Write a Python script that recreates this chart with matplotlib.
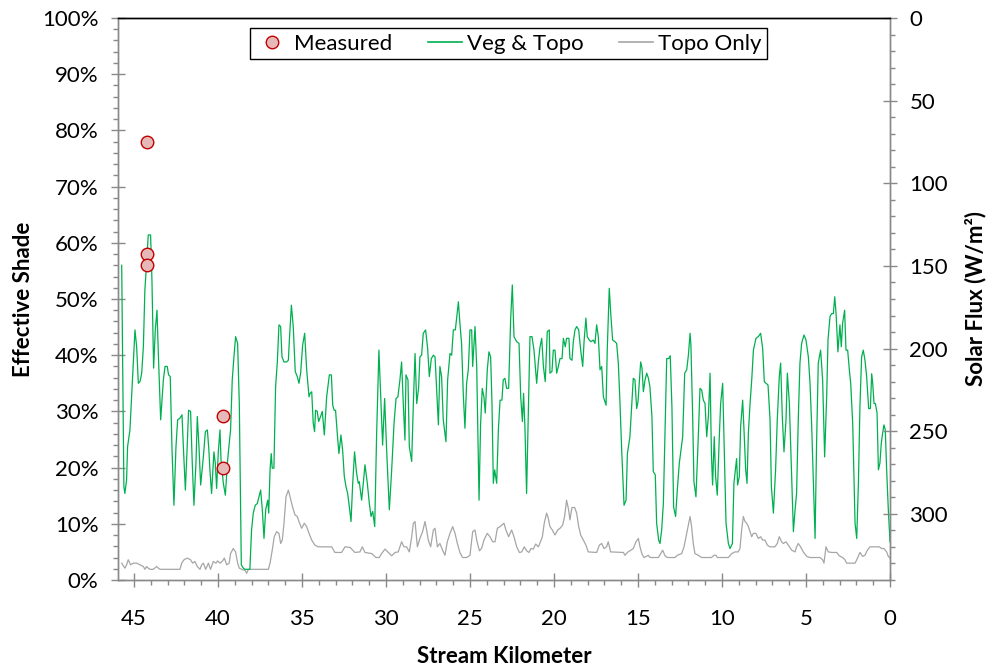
import matplotlib
matplotlib.use('Agg')
import matplotlib.pyplot as plt
from matplotlib.ticker import MultipleLocator, PercentFormatter
from matplotlib.lines import Line2D

plt.rcParams['font.family'] = ['Lato', 'DejaVu Sans']

# effective shade, vegetation + topography (km, %)
veg_km = [
    45.73, 45.60, 45.54, 45.44, 45.38, 45.24, 45.04, 44.94, 44.84, 44.74, 44.64, 44.54, 44.44, 44.35,
    44.25, 44.15, 44.01, 43.93, 43.83, 43.73, 43.63, 43.53, 43.41, 43.25, 43.15, 43.02, 42.94, 42.84,
    42.74, 42.62, 42.50, 42.40, 42.26, 42.14, 42.06, 41.94, 41.84, 41.75, 41.63, 41.53, 41.43, 41.31,
    41.23, 41.13, 41.03, 40.87, 40.75, 40.63, 40.54, 40.48, 40.38, 40.24, 40.16, 40.08, 39.98, 39.88,
    39.82, 39.68, 39.56, 39.44, 39.35, 39.25, 39.15, 39.05, 38.95, 38.83, 38.73, 38.61, 38.49, 38.39,
    38.10, 38.00, 37.90, 37.78, 37.66, 37.56, 37.46, 37.36, 37.26, 37.16, 37.04, 36.98, 36.90, 36.83,
    36.77, 36.67, 36.57, 36.47, 36.37, 36.27, 36.19, 36.07, 35.91, 35.81, 35.75, 35.63, 35.52, 35.40,
    35.28, 35.18, 35.08, 34.96, 34.84, 34.72, 34.58,
    34.52, 34.42, 34.33, 34.25, 34.19, 34.09, 34.01, 33.89, 33.79, 33.67, 33.53, 33.37, 33.25, 33.17,
    33.08, 33.00, 32.90, 32.80, 32.68, 32.58, 32.48, 32.38, 32.28, 32.18, 32.08, 31.98, 31.87, 31.75,
    31.65, 31.59, 31.45, 31.35, 31.25, 31.11, 30.99, 30.89, 30.79, 30.67, 30.56, 30.42, 30.30, 30.20,
    30.08, 29.96, 29.80, 29.66, 29.52, 29.40, 29.29, 29.17, 29.07, 28.97, 28.87, 28.81, 28.69, 28.61,
    28.47, 28.37, 28.27, 28.17, 28.06, 27.98, 27.88, 27.78, 27.64, 27.52, 27.42, 27.30, 27.18, 27.08,
    26.98, 26.88, 26.79, 26.69, 26.59, 26.43, 26.33, 26.19, 26.09, 25.99, 25.87, 25.69, 25.60, 25.50,
    25.40, 25.30, 25.20, 25.10, 25.00, 24.90, 24.84, 24.70, 24.60, 24.46, 24.37, 24.27, 24.17, 24.09,
    23.97, 23.87, 23.77, 23.69, 23.61, 23.53, 23.41, 23.31, 23.21,
    23.10, 23.02, 22.92, 22.82, 22.70, 22.58, 22.48, 22.38, 22.22, 22.08, 21.98, 21.88, 21.81, 21.73,
    21.63, 21.53, 21.43, 21.31, 21.19, 21.03, 20.93, 20.83, 20.73, 20.63, 20.52, 20.40, 20.28, 20.24,
    20.12, 20.04, 19.94, 19.84, 19.74, 19.64, 19.52, 19.44, 19.33, 19.25, 19.11, 19.05, 18.93, 18.85,
    18.75, 18.65, 18.53, 18.41, 18.29, 18.21, 18.10, 18.02, 17.90, 17.80, 17.66, 17.56, 17.46, 17.36,
    17.26, 17.16, 17.06, 16.90, 16.83, 16.71, 16.61, 16.51, 16.37, 16.27, 16.17, 16.07, 15.97, 15.83,
    15.71, 15.63, 15.48, 15.38, 15.28, 15.18, 15.08, 15.00, 14.84, 14.76, 14.68, 14.58, 14.48, 14.38,
    14.29, 14.17, 14.09, 13.97, 13.89, 13.77, 13.69, 13.59, 13.49, 13.39, 13.29, 13.17, 13.08, 12.98,
    12.88, 12.76, 12.66, 12.54, 12.42, 12.34, 12.22, 12.10, 12.00, 11.90,
    11.85, 11.75, 11.67, 11.55, 11.41, 11.31, 11.21, 11.11, 11.01, 10.91, 10.81, 10.71, 10.63, 10.56,
    10.46, 10.38, 10.28, 10.16, 10.08, 9.96, 9.86, 9.76, 9.62, 9.52, 9.38, 9.29, 9.13, 9.07,
    8.97, 8.89, 8.77, 8.69, 8.59, 8.51, 8.43, 8.33, 8.23, 8.13, 7.98, 7.84, 7.70, 7.58,
    7.48, 7.38, 7.26, 7.14, 7.06, 6.94, 6.81, 6.71, 6.59, 6.51, 6.41, 6.31, 6.19, 6.11,
    5.99, 5.89, 5.75, 5.65, 5.56, 5.46, 5.36, 5.26, 5.12, 5.00, 4.86, 4.76, 4.66, 4.56,
    4.46, 4.37, 4.27, 4.13, 4.01, 3.89, 3.77, 3.69, 3.57, 3.47, 3.37, 3.29, 3.21, 3.10,
    2.98, 2.90, 2.82, 2.70, 2.62, 2.52, 2.42, 2.34, 2.22, 2.08, 1.98, 1.88, 1.79, 1.69,
    1.59, 1.49, 1.39, 1.27, 1.17, 1.09, 1.03, 0.95, 0.87, 0.77, 0.69, 0.60, 0.52, 0.44,
    0.36, 0.28, 0.20, 0.10, 0.00,
]
veg_shade = [
    56.0, 16.6, 15.4, 17.8, 23.7, 26.7, 38.6, 44.5, 41.5, 35.0, 35.3, 36.8, 41.5, 51.6,
    56.3, 61.4, 61.4, 53.4, 37.7, 44.5, 48.0, 38.6, 28.5, 35.6, 38.0, 38.0, 36.5, 36.2,
    23.7, 13.3, 23.7, 28.5, 28.8, 29.4, 23.7, 16.0, 23.1, 30.2, 30.0, 20.8, 13.3, 20.8,
    29.1, 23.7, 16.9, 21.9, 26.4, 26.7, 23.1, 19.6, 15.4, 22.8, 20.8, 16.3, 22.8, 26.7,
    21.4, 17.2, 15.1, 20.8, 23.7, 26.7, 35.6, 39.7, 43.3, 42.1, 31.4, 2.7, 2.1, 1.9,
    1.9, 8.9, 11.9, 13.3, 13.6, 14.8, 16.0, 12.5, 7.4, 12.5, 14.2, 11.9, 19.6, 22.5,
    19.9, 19.9, 34.4, 38.6, 45.4, 45.1, 39.7, 38.8, 38.8, 39.1, 42.7, 48.9, 45.1, 37.1,
    36.2, 35.0, 36.8, 41.8, 43.9, 37.4, 32.6,
    33.2, 33.5, 27.9, 26.4, 30.2, 30.0, 28.2, 29.1, 30.0, 25.8, 32.6, 36.5, 36.5, 31.1,
    30.2, 30.2, 26.1, 22.5, 25.8, 23.1, 18.4, 16.6, 15.4, 13.0, 10.4, 17.2, 22.8, 19.0,
    17.2, 17.5, 14.2, 17.2, 20.5, 17.2, 13.6, 11.3, 12.2, 9.5, 25.5, 40.9, 31.4, 24.0,
    32.3, 23.1, 12.5, 19.6, 27.9, 32.3, 32.6, 35.6, 38.8, 31.4, 24.9, 36.5, 35.6, 23.7,
    21.1, 31.4, 40.3, 31.4, 34.1, 39.7, 40.0, 43.9, 44.5, 41.2, 36.2, 39.4, 40.0, 39.7,
    33.8, 27.6, 38.0, 36.2, 28.5, 24.6, 35.6, 40.3, 40.0, 44.5, 44.5, 49.5, 45.7, 42.1,
    33.2, 27.0, 35.0, 37.4, 44.5, 44.5, 38.0, 45.1, 38.0, 14.2, 27.6, 34.1, 32.6, 29.7,
    37.4, 40.6, 39.7, 31.4, 17.2, 19.6, 17.2, 26.7, 32.0,
    32.0, 35.6, 35.9, 34.1, 34.1, 46.3, 52.5, 43.3, 42.4, 42.1, 32.6, 28.2, 33.2, 27.3,
    15.4, 29.7, 43.3, 43.3, 40.9, 35.0, 38.8, 41.5, 43.0, 38.0, 35.3, 44.2, 44.5, 36.8,
    37.1, 40.9, 40.9, 36.8, 38.0, 39.4, 39.4, 43.0, 41.5, 43.0, 43.0, 39.4, 39.1, 42.4,
    44.5, 45.1, 44.5, 40.9, 38.0, 42.4, 46.6, 43.3, 42.7, 42.4, 42.7, 42.1, 45.4, 43.3,
    37.4, 38.0, 32.6, 31.1, 40.9, 51.9, 46.9, 42.7, 42.4, 42.1, 38.6, 31.4, 23.1, 13.3,
    14.2, 22.5, 25.5, 30.8, 35.9, 35.6, 30.5, 31.7, 38.8, 37.7, 33.5, 35.6, 36.8, 35.9,
    34.4, 29.1, 19.3, 18.7, 10.1, 7.1, 6.5, 8.9, 13.6, 26.7, 39.4, 39.4, 39.9, 30.8,
    13.0, 11.3, 16.0, 20.8, 23.7, 25.5, 36.8, 37.4, 40.0, 43.9,
    41.8, 29.7, 17.5, 14.8, 25.5, 34.1, 33.8, 32.0, 31.4, 25.5, 29.1, 36.8, 22.5, 16.9,
    25.5, 18.4, 15.1, 25.5, 31.4, 35.0, 22.5, 10.1, 6.5, 5.6, 6.5, 17.2, 21.6, 16.9,
    18.4, 27.3, 32.0, 26.7, 19.6, 17.2, 26.1, 31.4, 35.6, 40.9, 43.0, 43.3, 43.9, 41.2,
    35.3, 35.0, 34.7, 28.5, 16.6, 11.9, 19.6, 28.5, 36.2, 38.6, 29.1, 22.8, 28.5, 36.8,
    31.4, 21.9, 8.6, 12.5, 15.4, 28.5, 38.6, 42.1, 43.6, 42.7, 39.7, 35.0, 27.3, 17.2,
    7.4, 24.3, 38.6, 40.9, 35.6, 21.9, 32.6, 42.7, 46.9, 47.4, 47.4, 50.4, 47.4, 40.6,
    45.4, 41.5, 45.7, 48.0, 40.9, 40.9, 37.4, 35.0, 27.9, 10.1, 7.4, 17.2, 30.8, 39.7,
    40.9, 39.1, 36.2, 30.5, 30.5, 36.7, 35.0, 31.4, 31.4, 29.7, 19.6, 20.8, 24.3, 26.1,
    27.6, 26.7, 19.6, 12.5, 6.8,
]

# effective shade, topography only (km, %)
topo_km = [
    45.73, 45.54, 45.44, 45.34, 45.20, 45.04, 44.84, 44.64, 44.44, 44.35, 44.25, 44.15, 44.05, 43.85,
    43.65, 43.55, 43.45, 42.26, 42.16, 42.02, 41.83, 41.63, 41.51, 41.37, 41.23, 41.07, 40.97, 40.87,
    40.73, 40.57, 40.44, 40.28, 40.12, 40.02, 39.88, 39.72, 39.62, 39.48, 39.33, 39.25, 39.09, 38.95,
    38.83, 38.73, 38.59, 38.39, 38.29, 38.19, 37.00, 36.90, 36.77, 36.65, 36.51, 36.37, 36.27, 36.17,
    36.07, 35.95, 35.81, 35.71, 35.56, 35.42, 35.28, 35.18, 35.02, 34.86, 34.72, 34.58,
    34.42, 34.23, 34.03, 33.23, 33.04, 32.64, 32.44, 32.14, 31.85, 31.55, 31.41, 31.25, 30.85, 30.60,
    30.40, 30.26, 30.06, 29.86, 29.66, 29.46, 29.27, 29.07, 28.93, 28.77, 28.61, 28.47, 28.37, 28.27,
    28.13, 27.98, 27.82, 27.68, 27.58, 27.48, 27.34, 27.18, 27.08, 26.94, 26.79, 26.63, 26.49, 26.35,
    26.19, 26.03, 25.89, 25.75, 25.60, 25.44, 25.20, 25.00, 24.84, 24.70, 24.60, 24.44, 24.31, 24.17,
    23.97, 23.81, 23.65, 23.51, 23.37, 23.21,
    22.98, 22.86, 22.70, 22.52, 22.38, 22.22, 22.06, 21.92, 21.77, 21.63, 21.49, 21.37, 21.23, 21.09,
    20.93, 20.83, 20.69, 20.58, 20.44, 20.34, 20.24, 20.10, 19.94, 19.78, 19.64, 19.48, 19.37, 19.25,
    19.13, 19.05, 18.93, 18.77, 18.65, 18.53, 18.41, 18.25, 18.10, 17.96, 17.46, 17.30, 17.16, 17.02,
    16.87, 16.77, 16.63, 15.87, 15.77, 15.63, 15.28, 15.12, 14.98, 14.88, 14.76, 14.64, 14.38, 14.29,
    13.79, 13.65, 13.53, 13.39, 13.25, 12.80, 12.66, 12.40, 12.26, 12.10, 11.90,
    11.81, 11.71, 11.61, 11.41, 11.21, 10.62, 10.48, 10.36, 10.28, 9.62, 9.42, 9.23, 9.03, 8.93,
    8.83, 8.73, 8.63, 8.53, 8.43, 8.33, 8.23, 8.13, 7.98, 7.84, 7.70, 7.58, 7.44, 7.30,
    7.14, 6.85, 6.71, 6.59, 6.45, 6.35, 6.19, 6.05, 5.85, 5.65, 5.56, 5.46, 5.32, 5.16,
    4.96, 4.76, 4.17, 4.01, 3.93, 3.81, 3.67, 3.47, 3.17, 3.02, 2.82, 2.68, 2.58, 2.08,
    1.98, 1.79, 1.63, 1.49, 1.35, 1.19, 0.79, 0.63, 0.50, 0.36, 0.20, 0.10, 0.00,
]
topo_shade = [
    3.0, 2.1, 2.7, 3.6, 2.7, 3.0, 3.0, 2.7, 2.4, 1.9, 2.4, 2.1, 1.9, 1.9,
    2.4, 2.1, 1.9, 1.9, 3.0, 3.6, 3.9, 3.6, 3.0, 3.3, 2.4, 1.9, 2.7, 3.0,
    1.9, 3.0, 1.9, 3.3, 3.0, 3.4, 3.0, 3.4, 3.9, 2.7, 3.0, 4.7, 5.6, 5.0,
    3.0, 2.1, 1.9, 1.7, 1.2, 1.9, 1.9, 3.0, 5.3, 7.7, 8.6, 8.3, 6.5, 7.1,
    10.1, 14.8, 16.0, 14.8, 13.0, 11.6, 11.3, 10.4, 9.2, 10.1, 9.5, 8.3,
    7.1, 6.2, 5.9, 5.9, 4.9, 4.9, 5.9, 5.8, 4.9, 5.0, 5.9, 4.9, 4.7, 4.0,
    4.0, 4.7, 5.5, 4.9, 4.3, 4.9, 5.0, 6.8, 5.9, 5.9, 5.0, 7.7, 10.1, 10.4,
    5.9, 7.4, 8.6, 10.4, 8.9, 7.1, 5.9, 8.9, 9.2, 5.9, 6.5, 5.3, 4.4, 6.8,
    8.3, 9.5, 8.3, 6.5, 4.9, 4.0, 4.0, 4.4, 8.6, 8.9, 7.1, 5.2, 5.6, 7.1,
    8.3, 7.7, 6.8, 6.8, 9.2, 9.5,
    10.1, 8.9, 7.7, 8.9, 7.7, 5.9, 4.9, 5.0, 5.9, 5.2, 4.9, 5.6, 5.5, 6.4,
    5.9, 6.6, 7.7, 10.1, 11.9, 11.0, 9.5, 8.9, 8.0, 8.9, 9.2, 9.8, 11.3, 14.2,
    12.5, 10.7, 12.9, 12.9, 11.9, 9.5, 8.0, 7.1, 6.2, 5.0, 4.9, 6.2, 6.5, 5.6,
    5.9, 6.8, 5.0, 4.9, 4.4, 4.9, 5.6, 6.8, 7.4, 5.9, 4.6, 4.0, 4.4, 4.0,
    4.0, 4.7, 5.3, 4.3, 4.0, 4.0, 4.4, 4.7, 5.9, 8.3, 11.3,
    9.5, 6.5, 4.7, 4.4, 4.0, 4.0, 4.4, 4.4, 4.0, 4.0, 4.7, 5.0, 5.0, 5.6,
    8.9, 11.3, 10.4, 10.1, 9.5, 8.6, 7.7, 8.3, 8.3, 7.4, 7.7, 7.1, 7.1, 6.2,
    5.9, 5.9, 6.5, 7.7, 6.8, 6.5, 6.8, 6.2, 5.3, 5.0, 5.9, 6.5, 5.9, 5.0,
    4.2, 4.0, 4.0, 3.6, 3.0, 5.9, 5.0, 4.9, 4.9, 4.3, 4.0, 3.6, 3.0, 3.0,
    3.6, 4.9, 4.2, 4.4, 5.3, 5.9, 5.9, 5.9, 5.6, 5.6, 5.0, 4.2, 3.9,
]

# field measurements
meas_km = [44.24, 44.24, 44.24, 39.68, 39.68]
meas_shade = [78.0, 58.0, 56.0, 29.1, 20.0]

green = '#00b050'
grey = '#a6a6a6'
axis_grey = '#898989'

fig = plt.figure(figsize=(9.87, 6.70), dpi=100)
ax = fig.add_axes([118 / 987, 1 - 580 / 670, 772 / 987, 562 / 670])

ax.plot(veg_km, veg_shade, color=green, lw=0.9, zorder=3)
ax.plot(topo_km, topo_shade, color=grey, lw=0.9, zorder=2)
ax.plot(meas_km, meas_shade, ls='none', marker='o', ms=9, mfc='#e6b9b8', mec='#c00000',
        mew=1, zorder=4)

ax.set_xlim(45.95, 0)
ax.set_ylim(0, 100)
ax.xaxis.set_major_locator(MultipleLocator(5))
ax.xaxis.set_minor_locator(MultipleLocator(1))
ax.yaxis.set_major_locator(MultipleLocator(10))
ax.yaxis.set_minor_locator(MultipleLocator(2))
ax.yaxis.set_major_formatter(PercentFormatter(decimals=0))

ax2 = ax.twinx()
ax2.set_ylim(340, 0)
ax2.yaxis.set_major_locator(MultipleLocator(50))
ax2.yaxis.set_minor_locator(MultipleLocator(10))

for a in (ax, ax2):
    for s in a.spines.values():
        s.set_color(axis_grey)
        s.set_linewidth(1)
    a.tick_params(which='major', direction='inout', length=10, width=1, color=axis_grey,
                  labelsize=16, labelcolor='black')
    a.tick_params(which='minor', direction='out', length=3.6, width=1, color=axis_grey)
ax.spines['top'].set_color('black')
ax2.spines['top'].set_color('black')
ax.tick_params(axis='x', which='major', pad=16)
ax.tick_params(axis='y', which='major', pad=9)
ax2.tick_params(axis='y', which='major', pad=9)

ax.set_xlabel('Stream Kilometer', fontsize=16, fontweight='bold', labelpad=12)
ax.set_ylabel('Effective Shade', fontsize=16, fontweight='bold', labelpad=6)
ax2.set_ylabel('Solar Flux (W/m²)', fontsize=16, fontweight='bold', labelpad=12)

handles = [
    Line2D([], [], ls='none', marker='o', ms=9, mfc='#e6b9b8', mec='#c00000', mew=1),
    Line2D([], [], color=green, lw=1.2),
    Line2D([], [], color=grey, lw=1.2),
]
leg = ax2.legend(handles, ['Measured', 'Veg & Topo', 'Topo Only'], ncol=3, loc='upper center',
                 bbox_to_anchor=(0.506, 1.0), borderaxespad=0.45, fontsize=16, frameon=True,
                 fancybox=False, framealpha=1, edgecolor='black', borderpad=0.25,
                 handlelength=1.5, handletextpad=0.25, columnspacing=1.6)
leg.get_frame().set_linewidth(1)

fig.savefig('out.png', dpi=100)
